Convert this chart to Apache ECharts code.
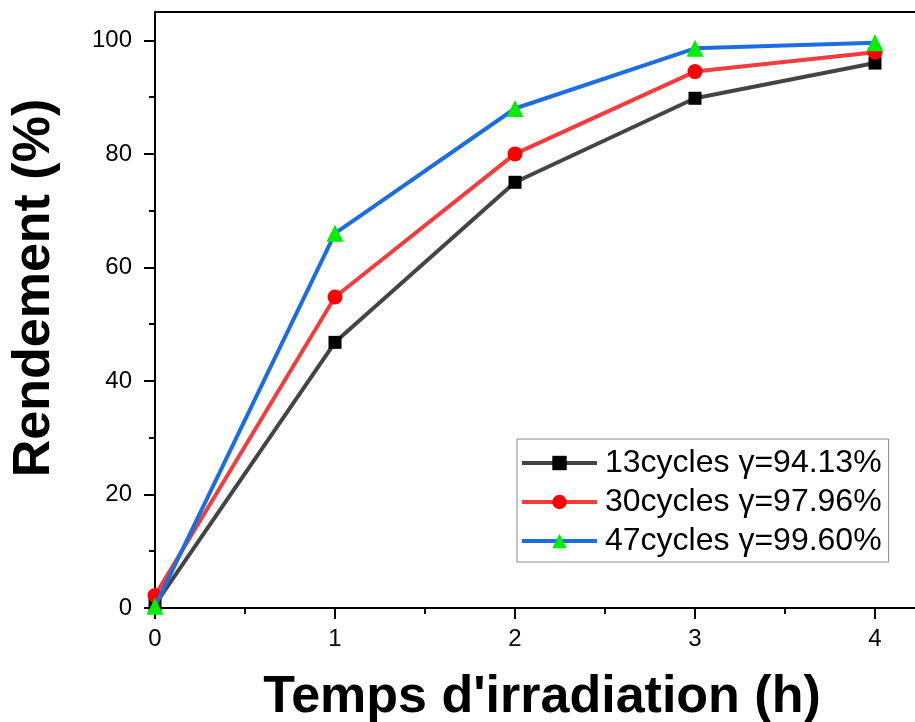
<!DOCTYPE html>
<html lang="fr">
<head>
    <meta charset="UTF-8">
    <title>Rendement</title>
    <script src="https://cdn.jsdelivr.net/npm/echarts@6.0.0/dist/echarts.min.js"></script>
    <style>
        html, body { margin: 0; padding: 0; background: #fff; }
        #main { width: 915px; height: 722px; }
    </style>
</head>
<body>
    <div id="main"></div>
    <script type="text/javascript">
        // temps d'irradiation (h)
        const hours = [0, 1, 2, 3, 4];
        const cycles13 = [0.6, 46.8, 75.0, 89.8, 96.0];
        const cycles30 = [2.2, 54.8, 80.0, 94.5, 97.9];
        const cycles47 = [0.3, 66.0, 88.0, 98.6, 99.6];
        const seriesNames = ['13cycles \u03b3=94.13%', '30cycles \u03b3=97.96%', '47cycles \u03b3=99.60%'];
        const xTicks = [0, 1, 2, 3, 4];
        const xMinor = [0.5, 1.5, 2.5, 3.5];
        const yTicks = [0, 20, 40, 60, 80, 100];
        const yMinor = [10, 30, 50, 70, 90];

        const font = 'Liberation Sans, Arial, sans-serif';
        const pair = (ys) => hours.map((h, i) => [h, ys[i]]);

        const baseX = {
            type: 'value', min: 0, max: 4.3, gridIndex: 0,
            splitLine: { show: false },
            axisLine: { onZero: false, lineStyle: { color: '#000', width: 2 } }
        };
        const baseY = {
            type: 'value', min: 0, max: 105, gridIndex: 0,
            splitLine: { show: false },
            axisLine: { onZero: false, lineStyle: { color: '#000', width: 2 } }
        };

        const option = {
            animation: false,
            backgroundColor: '#fff',
            grid: { left: 155, top: 12, width: 774, height: 596, containLabel: false, outerBoundsMode: 'none' },
            xAxis: [
                Object.assign({}, baseX, {
                    position: 'bottom',
                    name: "Temps d'irradiation (h)",
                    nameLocation: 'middle',
                    nameGap: 64,
                    nameTextStyle: { fontFamily: font, fontSize: 52, fontWeight: 'bold', color: '#000' },
                    axisTick: { show: true, inside: false, length: 11, customValues: xTicks, lineStyle: { color: '#000', width: 2 } },
                    axisLabel: { customValues: xTicks, margin: 19, fontFamily: font, fontSize: 24, color: '#000' }
                }),
                Object.assign({}, baseX, {
                    position: 'bottom',
                    axisTick: { show: true, inside: false, length: 6, customValues: xMinor, lineStyle: { color: '#000', width: 2 } },
                    axisLabel: { show: false }
                }),
                Object.assign({}, baseX, {
                    position: 'top',
                    axisTick: { show: false },
                    axisLabel: { show: false }
                })
            ],
            yAxis: [
                Object.assign({}, baseY, {
                    position: 'left',
                    name: 'Rendement (%)',
                    nameLocation: 'middle',
                    nameGap: 94,
                    nameTextStyle: { fontFamily: font, fontSize: 52, fontWeight: 'bold', color: '#000', padding: [0, 0, 0, 44] },
                    axisTick: { show: true, inside: false, length: 11, customValues: yTicks, lineStyle: { color: '#000', width: 2 } },
                    axisLabel: { customValues: yTicks, margin: 23, fontFamily: font, fontSize: 24, color: '#000' }
                }),
                Object.assign({}, baseY, {
                    position: 'left',
                    axisTick: { show: true, inside: false, length: 6, customValues: yMinor, lineStyle: { color: '#000', width: 2 } },
                    axisLabel: { show: false }
                })
            ],
            legend: {
                orient: 'vertical',
                left: 517,
                top: 439,
                padding: [8, 7, 5, 3],
                itemWidth: 75,
                itemHeight: 18,
                itemGap: 7,
                borderColor: '#888',
                borderWidth: 1,
                backgroundColor: '#fff',
                lineStyle: { width: 4 },
                textStyle: { fontFamily: font, fontSize: 32, color: '#000', padding: [0, 0, 0, 3] },
                data: seriesNames
            },
            series: [
                {
                    name: seriesNames[0], type: 'line', data: pair(cycles13),
                    symbol: 'rect', symbolSize: 13,
                    lineStyle: { color: '#444444', width: 4 },
                    itemStyle: { color: '#000' },
                    z: 2
                },
                {
                    name: seriesNames[1], type: 'line', data: pair(cycles30),
                    symbol: 'circle', symbolSize: 15,
                    lineStyle: { color: '#f43c3c', width: 4 },
                    itemStyle: { color: '#ff0000' },
                    z: 3
                },
                {
                    name: seriesNames[2], type: 'line', data: pair(cycles47),
                    symbol: 'triangle', symbolSize: 17,
                    lineStyle: { color: '#1c6ee0', width: 4 },
                    itemStyle: { color: '#00ee00' },
                    z: 4
                }
            ]
        };

        const myChart = echarts.init(document.getElementById('main'));
        myChart.setOption(option);
    </script>
</body>
</html>
